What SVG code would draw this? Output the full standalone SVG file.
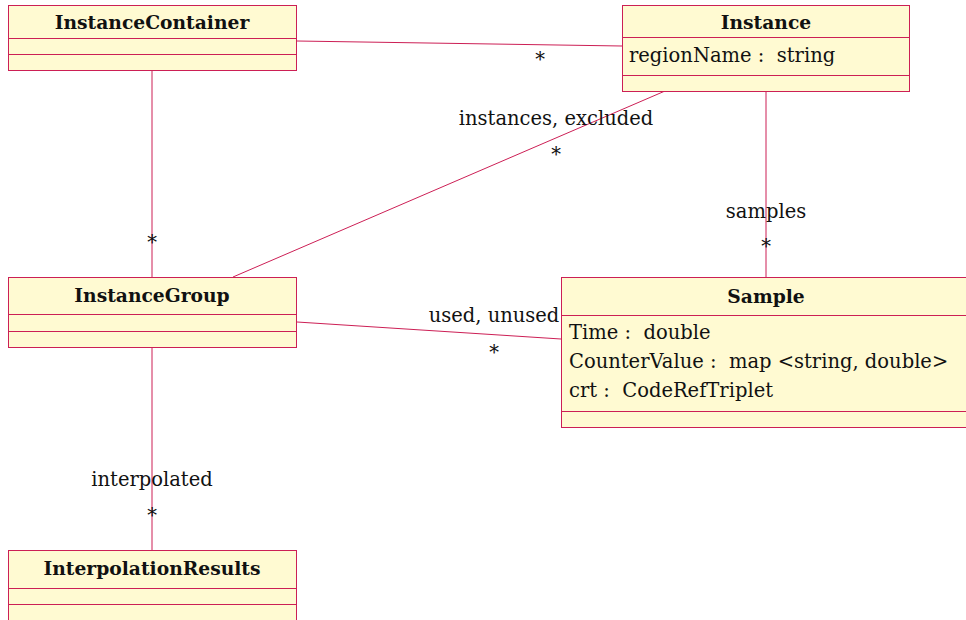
<svg xmlns="http://www.w3.org/2000/svg" width="966" height="620" viewBox="0 0 966 620">
<style>
.box{fill:#fffad2;stroke:#cc1f55;stroke-width:1}
.sep{stroke:#cc1f55;stroke-width:1}
.t{font-family:"DejaVu Serif",serif;font-size:18.7px;font-weight:bold;text-anchor:middle;fill:#111}
.a{font-family:"DejaVu Serif",serif;font-size:19.5px;fill:#111}
.l{font-family:"DejaVu Serif",serif;font-size:19.5px;fill:#111;text-anchor:middle}
#connectors line{stroke:#cc1f55;stroke-width:1}
</style>
<rect width="966" height="620" fill="#fff"/>
<g id="connectors">
<line x1="297" y1="41" x2="622" y2="46"/>
<line x1="152" y1="70" x2="152" y2="277"/>
<line x1="665" y1="91" x2="233" y2="277"/>
<line x1="766" y1="91" x2="766" y2="277"/>
<line x1="297" y1="322" x2="561" y2="339"/>
<line x1="152" y1="347" x2="152" y2="550"/>
<text class="l" x="540" y="66">*</text>
<text class="l" x="152" y="249">*</text>
<text class="l" x="556" y="125">instances, excluded</text>
<text class="l" x="556" y="161">*</text>
<text class="l" x="766" y="218">samples</text>
<text class="l" x="766" y="253">*</text>
<text class="l" x="494" y="322">used, unused</text>
<text class="l" x="494" y="359">*</text>
<text class="l" x="152" y="486">interpolated</text>
<text class="l" x="152" y="522">*</text>
</g>
<g id="InstanceContainer">
<rect class="box" x="8.5" y="5.5" width="288" height="65"/>
<line class="sep" x1="8.5" y1="38.5" x2="296.5" y2="38.5"/>
<line class="sep" x1="8.5" y1="54.5" x2="296.5" y2="54.5"/>
<text class="t" x="152" y="29">InstanceContainer</text>
</g>
<g id="Instance">
<rect class="box" x="622.5" y="5.5" width="287" height="86"/>
<line class="sep" x1="622.5" y1="37.5" x2="909.5" y2="37.5"/>
<line class="sep" x1="622.5" y1="75.5" x2="909.5" y2="75.5"/>
<text class="t" x="766" y="29">Instance</text>
<text class="a" x="629" y="62" xml:space="preserve">regionName :  string</text>
</g>
<g id="InstanceGroup">
<rect class="box" x="8.5" y="277.5" width="288" height="70"/>
<line class="sep" x1="8.5" y1="314.5" x2="296.5" y2="314.5"/>
<line class="sep" x1="8.5" y1="331.5" x2="296.5" y2="331.5"/>
<text class="t" x="152" y="302">InstanceGroup</text>
</g>
<g id="Sample">
<rect class="box" x="561.5" y="277.5" width="420" height="150"/>
<line class="sep" x1="561.5" y1="315.5" x2="981.5" y2="315.5"/>
<line class="sep" x1="561.5" y1="411.5" x2="981.5" y2="411.5"/>
<text class="t" x="766" y="303">Sample</text>
<text class="a" x="569" y="339" xml:space="preserve">Time :  double</text>
<text class="a" x="569" y="368" xml:space="preserve">CounterValue :  map &lt;string, double&gt;</text>
<text class="a" x="569" y="397" xml:space="preserve">crt :  CodeRefTriplet</text>
</g>
<g id="InterpolationResults">
<rect class="box" x="8.5" y="550.5" width="288" height="80"/>
<line class="sep" x1="8.5" y1="588.5" x2="296.5" y2="588.5"/>
<line class="sep" x1="8.5" y1="604.5" x2="296.5" y2="604.5"/>
<text class="t" x="152" y="575">InterpolationResults</text>
</g>
</svg>
